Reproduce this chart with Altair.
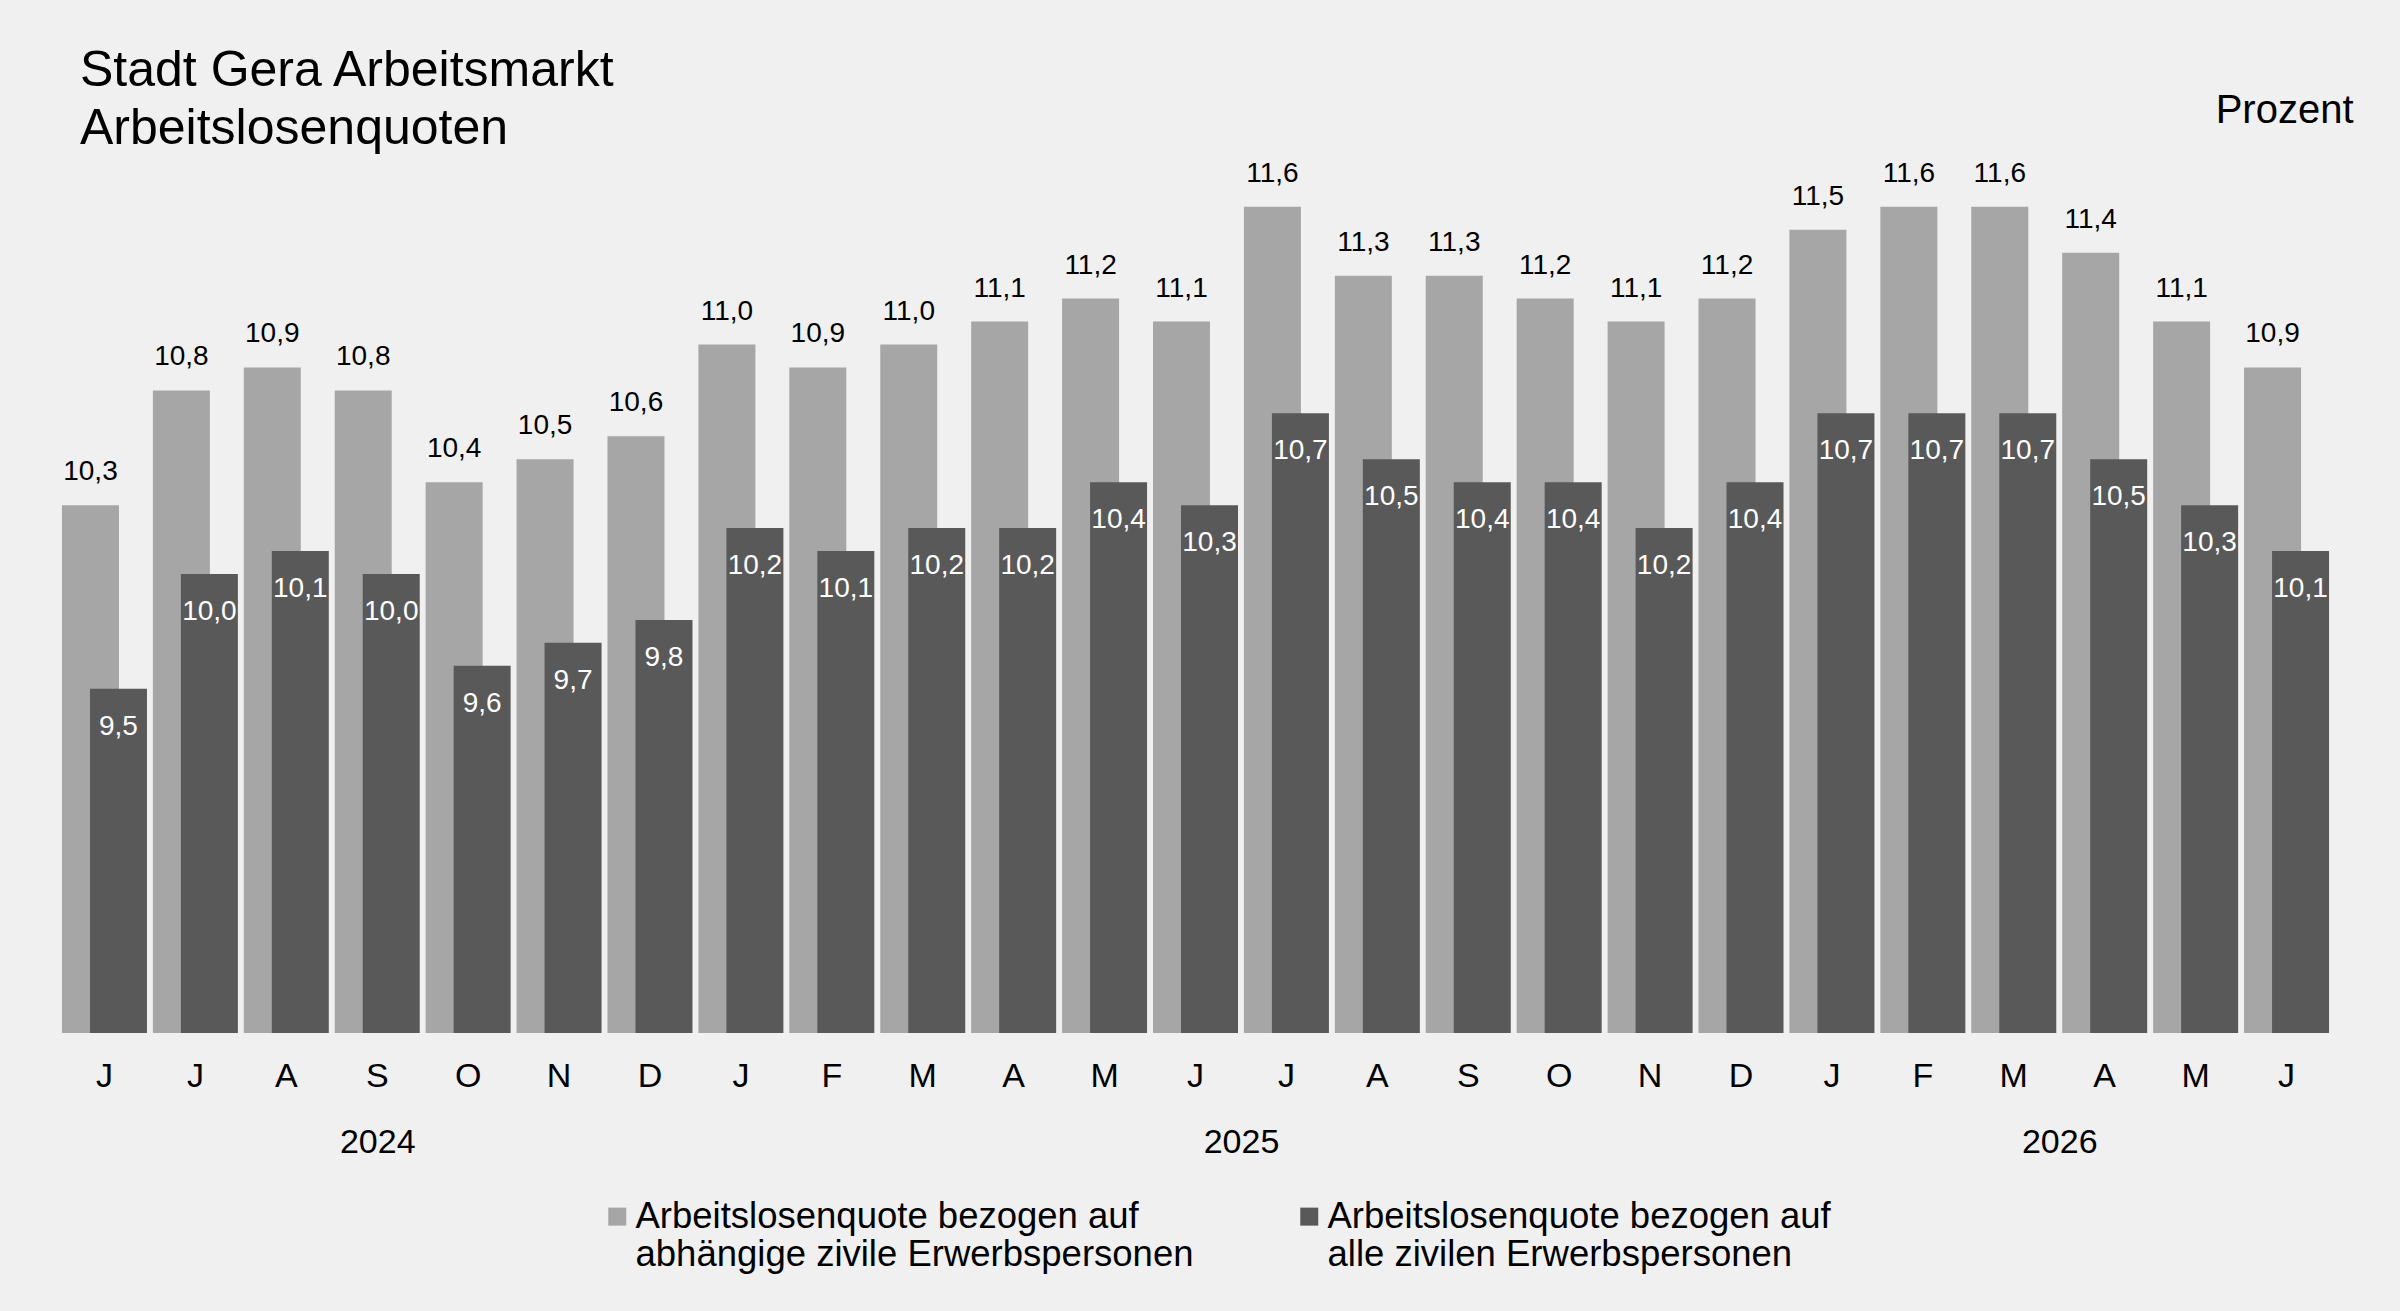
import json
import altair as alt
import pandas as pd

# ---- data ----
months = ["J", "J", "A", "S", "O", "N", "D",
          "J", "F", "M", "A", "M", "J", "J", "A", "S", "O", "N", "D",
          "J", "F", "M", "A", "M", "J"]
years = [2024, 2024, 2024, 2024, 2024, 2024, 2024,
         2025, 2025, 2025, 2025, 2025, 2025, 2025, 2025, 2025, 2025, 2025, 2025,
         2026, 2026, 2026, 2026, 2026, 2026]
quote_abhaengige = [10.3, 10.8, 10.9, 10.8, 10.4, 10.5, 10.6,
                    11.0, 10.9, 11.0, 11.1, 11.2, 11.1, 11.6, 11.3, 11.3, 11.2, 11.1, 11.2,
                    11.5, 11.6, 11.6, 11.4, 11.1, 10.9]
quote_alle = [9.5, 10.0, 10.1, 10.0, 9.6, 9.7, 9.8,
              10.2, 10.1, 10.2, 10.2, 10.4, 10.3, 10.7, 10.5, 10.4, 10.4, 10.2, 10.4,
              10.7, 10.7, 10.7, 10.5, 10.3, 10.1]
series_names = ["Arbeitslosenquote bezogen auf\nabhängige zivile Erwerbspersonen",
                "Arbeitslosenquote bezogen auf\nalle zivilen Erwerbspersonen"]
title_lines = ["Stadt Gera Arbeitsmarkt", "Arbeitslosenquoten"]
unit_label = "Prozent"

LIGHT = "#a6a6a6"
DARK = "#595959"
BG = "#f0f0f0"
FONT = "Liberation Sans"

def de(v):
    return f"{v:.1f}".replace(".", ",")

df = pd.DataFrame({
    "idx": list(range(len(months))),
    "month": months,
    "year": years,
    "light": quote_abhaengige,
    "dark": quote_alle,
    "light_lbl": [de(v) for v in quote_abhaengige],
    "dark_lbl": [de(v) for v in quote_alle],
})
year_df = df.groupby("year", as_index=False)["idx"].mean().rename(columns={"idx": "center"})
year_df["year_lbl"] = year_df["year"].astype(str)

W, H = 2273, 918
Y_MIN, Y_MAX = 8, 12
BAR_W = 57
OFF = 14

month_expr = "[" + ",".join(f"'{m}'" for m in months) + "][datum.value]"
year_expr = "".join(f"datum.value == {c} ? '{y}' : " for c, y in zip(year_df["center"], year_df["year_lbl"])) + "''"

x_axis = alt.Axis(title=None, labelExpr=month_expr, labelFontSize=34, labelPadding=43,
                  labelBaseline="middle", ticks=False, tickSize=0, domain=False,
                  labelAngle=0, labelColor="#000000", grid=False)
x_scale = alt.Scale(paddingInner=0, paddingOuter=0)
x_enc = alt.X("idx:O", scale=x_scale, axis=x_axis)

y_scale = alt.Scale(domain=[Y_MIN, Y_MAX], zero=False, nice=False)
y_axis = alt.Axis(orient="right", title=unit_label, titleAngle=0, titleAlign="right",
                  titleBaseline="middle", titleX=21, titleY=-5, labels=False, ticks=False,
                  domain=False, grid=False, titleFontSize=40, titleFontWeight="normal",
                  titleColor="#000000", titlePadding=0)

def y_enc(field):
    return alt.Y(f"{field}:Q", scale=y_scale, axis=y_axis, title=unit_label)

color_scale = alt.Scale(domain=series_names, range=[LIGHT, DARK])
legend = alt.Legend(title=None, orient="none", legendX=540, legendY=1083, direction="horizontal",
                    columns=2, symbolType="square", symbolSize=324, symbolOpacity=1,
                    labelFontSize=36.5, labelLimit=1200, labelOffset=0, columnPadding=97,
                    labelExpr="split(datum.label, '\\n')", labelBaseline="middle",
                    labelColor="#000000")

light_bar = alt.Chart().transform_calculate(series=json.dumps(series_names[0])).mark_bar(
    width=BAR_W, xOffset=-OFF).encode(
    x=x_enc, y=y_enc("light"), y2=alt.datum(Y_MIN),
    color=alt.Color("series:N", scale=color_scale, legend=legend),
)
dark_bar = alt.Chart().transform_calculate(series=json.dumps(series_names[1])).mark_bar(
    width=BAR_W, xOffset=OFF).encode(
    x=x_enc, y=y_enc("dark"), y2=alt.datum(Y_MIN),
    color=alt.Color("series:N", scale=color_scale, legend=legend),
)
light_text = alt.Chart().mark_text(dx=-OFF, dy=-33, fontSize=28, color="#000000", baseline="middle").encode(
    x=x_enc, y=y_enc("light"), text="light_lbl:N")
dark_text = alt.Chart().mark_text(dx=OFF, dy=38, fontSize=28, color="#ffffff", baseline="middle").encode(
    x=x_enc, y=y_enc("dark"), text="dark_lbl:N")

inner = alt.layer(light_bar, dark_bar, light_text, dark_text, data=df)

year_layer = alt.Chart(year_df).mark_text(text="").encode(
    x=alt.X("center:Q", scale=alt.Scale(domain=[-0.5, len(months) - 0.5], nice=False, zero=False),
            axis=alt.Axis(orient="bottom", values=list(year_df["center"]), labelExpr=year_expr,
                          labelFontSize=34, labelPadding=109, labelBaseline="middle", ticks=False,
                          tickSize=0, domain=False, grid=False, title=None, labelFlush=False,
                          labelOverlap=False, labelColor="#000000"))
)

chart = alt.layer(inner, year_layer).resolve_scale(x="independent").properties(
    width=W, height=H,
    title=alt.Title(text=title_lines, anchor="start", frame="group", fontSize=50,
                    fontWeight="normal", lineHeight=58, offset=-64, dx=21, color="#000000"),
    background=BG,
    padding={"left": 59, "top": 115, "right": 68, "bottom": 278},
    autosize=alt.AutoSizeParams(type="none"),
).configure(font=FONT).configure_view(stroke=None)

chart.save("out.html", embed_options={"renderer": "svg", "actions": False})
